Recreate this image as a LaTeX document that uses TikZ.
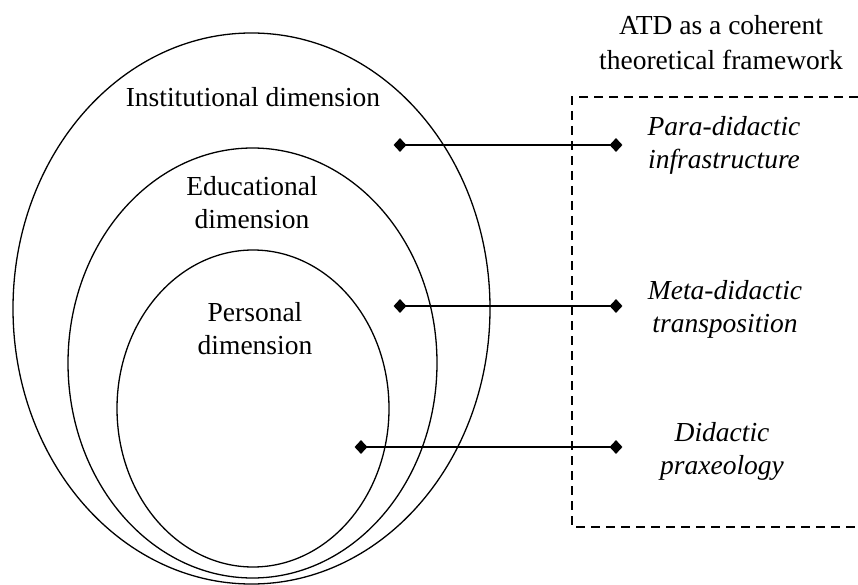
\documentclass[tikz,border=0pt]{standalone}
\usepackage{fontspec}
\setmainfont{Liberation Serif}
\usetikzlibrary{shapes.geometric}
\begin{document}
\begin{tikzpicture}[x=1pt,y=-1pt,
  ring/.style={draw, line width=1.3pt},
  lbl/.style={font=\fontsize{27.5}{33}\selectfont, align=center, inner sep=0pt},
  ilbl/.style={font=\fontsize{27.5}{33}\selectfont\itshape, align=center, inner sep=0pt},
  dmd/.style={diamond, fill=black, draw=none, inner sep=0pt, minimum width=13pt, minimum height=14pt},
  link/.style={line width=1.6pt},
  frame/.style={line width=1.4pt, dash pattern=on 9pt off 6pt}]
\useasboundingbox (0,0) rectangle (858,585);
% nested ellipses
\draw[ring] (251.5,308.5) ellipse [x radius=238.5pt, y radius=275.5pt];
\draw[ring] (252.5,363) ellipse [x radius=184.5pt, y radius=215pt];
\draw[ring] (253,408.5) ellipse [x radius=136pt, y radius=158.5pt];
% left labels
\node[lbl] (inst) at (253,100) {\strut Institutional dimension};
\node[lbl] (educ) at (252,205) {\strut Educational\\\strut dimension};
\node[lbl] (pers) at (255,331.5) {\strut Personal\\\strut dimension};
% framework heading and dashed frame
\node[font=\fontsize{27.5}{35}\selectfont, align=center, inner sep=0pt] (atd) at (721,45) {\strut ATD as a coherent\\\strut theoretical framework};
\draw[frame] (858,97) -- (572,97) -- (572,527) -- (858,527);
% right labels
\node[ilbl] (para) at (724,145.5) {\strut Para-didactic\\\strut infrastructure};
\node[ilbl] (meta) at (725,309) {\strut Meta-didactic\\\strut transposition};
\node[ilbl] (dida) at (722,451) {\strut Didactic\\\strut praxeology};
% diamonds
\node[dmd] (l1) at (400,145) {};
\node[dmd] (r1) at (616,145) {};
\node[dmd] (l2) at (400,306) {};
\node[dmd] (r2) at (616,306) {};
\node[dmd] (l3) at (361,447) {};
\node[dmd] (r3) at (616,447) {};
% connectors
\draw[link] (l1.center) -- (r1.center);
\draw[link] (l2.center) -- (r2.center);
\draw[link] (l3.center) -- (r3.center);
\end{tikzpicture}
\end{document}
